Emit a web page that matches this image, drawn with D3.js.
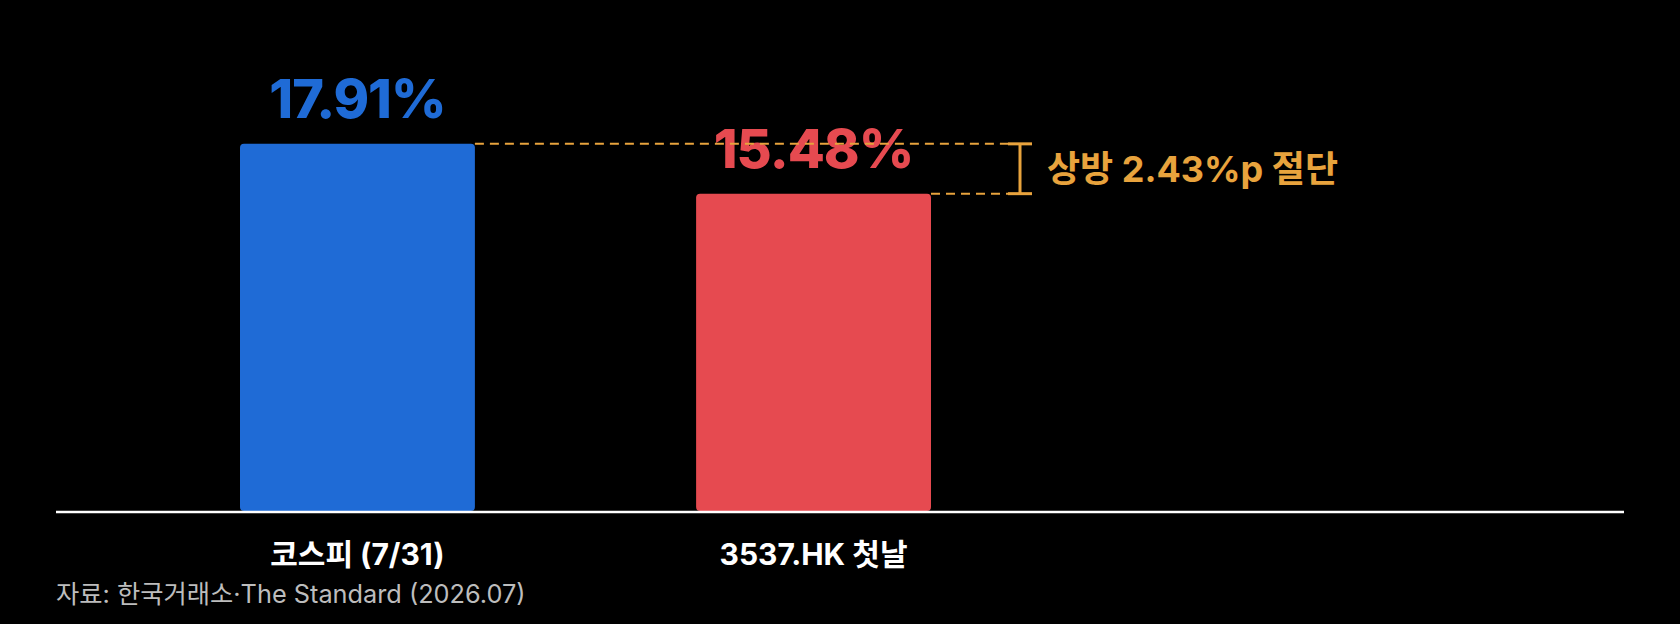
<!DOCTYPE html>
<html>
<head>
<meta charset="utf-8">
<script src="https://cdn.jsdelivr.net/npm/d3@7"></script>
<style>
  html, body { margin: 0; padding: 0; background: #000; }
  svg { display: block; }
  text { font-family: Inter, "Noto Sans CJK KR", sans-serif; }
</style>
</head>
<body>
<svg width="1680" height="624"></svg>
<script>
const categories = ["코스피 (7/31)", "3537.HK 첫날"];
const values = [17.91, 15.48];
const valueLabels = ["17.91%", "15.48%"];
const barColors = ["#1F6BD6", "#E64A50"];
const gapLabel = "상방 2.43%p 절단";
const sourceText = "자료: 한국거래소·The Standard (2026.07)";

const svg = d3.select("svg");
const orange = "#E8A33D";

const x = d3.scaleBand()
  .domain(categories)
  .range([240, 931])
  .paddingInner(0.485)
  .paddingOuter(0);

const y = d3.scaleLinear()
  .domain([0, 20])
  .range([511, 101]);

// bars
svg.append("g")
  .selectAll("rect")
  .data(values)
  .enter()
  .append("rect")
  .attr("x", function (d, i) { return x(categories[i]); })
  .attr("y", function (d) { return y(d); })
  .attr("width", x.bandwidth())
  .attr("height", function (d) { return y(0) - y(d); })
  .attr("rx", 4)
  .attr("fill", function (d, i) { return barColors[i]; });

// value labels
svg.append("g")
  .selectAll("text")
  .data(values)
  .enter()
  .append("text")
  .attr("x", function (d, i) { return x(categories[i]) + x.bandwidth() / 2; })
  .attr("y", function (d) { return y(d) - 26; })
  .attr("text-anchor", "middle")
  .attr("fill", function (d, i) { return barColors[i]; })
  .style("font-size", "54px")
  .style("font-weight", 800)
  .style("letter-spacing", "-1px")
  .text(function (d, i) { return valueLabels[i]; });

// baseline
svg.append("line")
  .attr("x1", 56)
  .attr("x2", 1624)
  .attr("y1", y(0) + 1)
  .attr("y2", y(0) + 1)
  .attr("stroke", "#fff")
  .attr("stroke-width", 2.5);

// gap annotation
const bracketX = 1020;
const dashes = svg.append("g");
dashes.selectAll("line")
  .data(values)
  .enter()
  .append("line")
  .attr("x1", function (d, i) { return x(categories[i]) + x.bandwidth(); })
  .attr("x2", bracketX - 12)
  .attr("y1", function (d) { return y(d); })
  .attr("y2", function (d) { return y(d); })
  .attr("stroke", orange)
  .attr("stroke-width", 2)
  .attr("stroke-dasharray", "9,6");

const bracket = svg.append("g")
  .attr("stroke", orange)
  .attr("stroke-width", 3);
bracket.append("line")
  .attr("x1", bracketX).attr("x2", bracketX)
  .attr("y1", y(values[0])).attr("y2", y(values[1]));
bracket.selectAll(".cap")
  .data(values)
  .enter()
  .append("line")
  .attr("x1", bracketX - 12)
  .attr("x2", bracketX + 12)
  .attr("y1", function (d) { return y(d); })
  .attr("y2", function (d) { return y(d); });

svg.append("text")
  .attr("x", 1047)
  .attr("y", (y(values[0]) + y(values[1])) / 2)
  .attr("dy", "0.36em")
  .attr("fill", orange)
  .style("font-size", "36px")
  .style("font-weight", 700)
  .text(gapLabel);

// category labels
svg.append("g")
  .selectAll("text")
  .data(categories)
  .enter()
  .append("text")
  .attr("x", function (d) { return x(d) + x.bandwidth() / 2; })
  .attr("y", 565)
  .attr("text-anchor", "middle")
  .attr("fill", "#fff")
  .style("font-size", "30px")
  .style("font-weight", 700)
  .text(function (d) { return d; });

// source
svg.append("text")
  .attr("x", 56)
  .attr("y", 603)
  .attr("fill", "#BDBDBD")
  .style("font-size", "25.3px")
  .text(sourceText);
</script>
</body>
</html>
